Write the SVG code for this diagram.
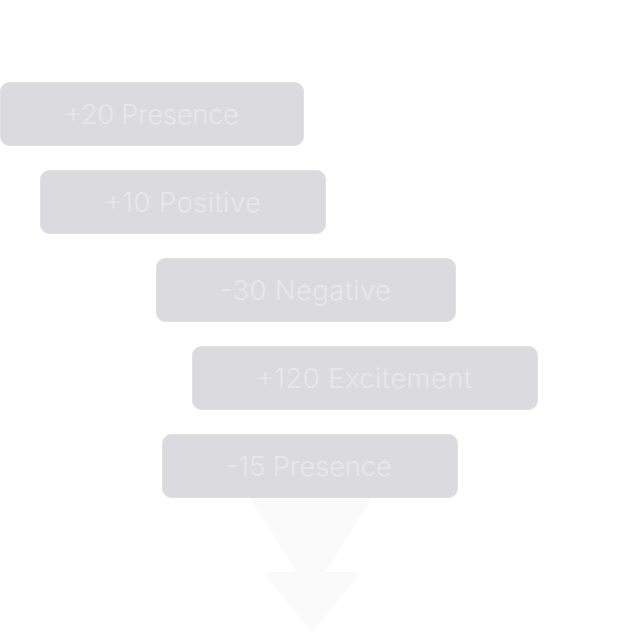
<svg xmlns="http://www.w3.org/2000/svg" width="620" height="632" viewBox="0 0 620 632">
<style>
.box{fill:#dbdbdf;stroke:#dfdfe2;stroke-width:1}
.lbl{font-family:"Inter","Noto Sans",sans-serif;font-weight:300;font-size:27.500px;fill:#e7e7ec}
.arr{fill:#fafafb}
</style>
<rect width="620" height="632" fill="#ffffff"/>
<g id="connectors">
<polygon class="arr" points="250,498 372,498 311,595"/>
<polygon class="arr" points="263,572 361,572 312,632"/>
</g>
<g id="node1"><rect class="box" x="0.5" y="82.500" width="303" height="63" rx="9"/><text class="lbl" x="64" y="124" textLength="175">+20 Presence</text></g>
<g id="node2"><rect class="box" x="40.500" y="170.500" width="285" height="63" rx="9"/><text class="lbl" x="104" y="212" textLength="157">+10 Positive</text></g>
<g id="node3"><rect class="box" x="156.500" y="258.500" width="299" height="63" rx="9"/><text class="lbl" x="220" y="300" textLength="171">-30 Negative</text></g>
<g id="node4"><rect class="box" x="192.500" y="346.500" width="345" height="63" rx="9"/><text class="lbl" x="256" y="388" textLength="216">+120 Excitement</text></g>
<g id="node5"><rect class="box" x="162.500" y="434.500" width="295" height="63" rx="9"/><text class="lbl" x="226" y="476" textLength="166">-15 Presence</text></g>
</svg>
